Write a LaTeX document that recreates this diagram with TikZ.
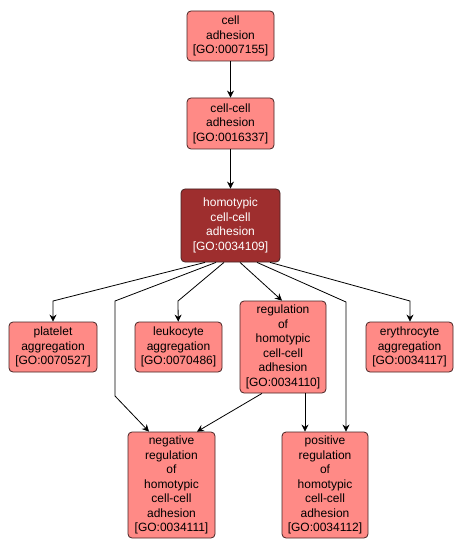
\documentclass[tikz,border=0pt]{standalone}
\usepackage{fontspec}
\setmainfont{Liberation Sans}
\usetikzlibrary{arrows.meta}
\definecolor{gofill}{RGB}{255,138,134}
\definecolor{godark}{RGB}{158,46,46}
\definecolor{goborder}{RGB}{70,35,35}
\tikzset{
  term/.style={draw=goborder, line width=0.8pt, fill=gofill, rounded corners=4pt,
    align=center, font=\fontsize{12}{14.5}\selectfont, inner sep=0pt, text=black},
  focus/.style={term, fill=godark, text=white},
  edge/.style={draw=black, line width=0.8pt, -{Stealth[length=7pt,width=7pt]}},
}
\begin{document}
\begin{tikzpicture}[x=1pt,y=-1pt]
\useasboundingbox (0,0) rectangle (463,553);
\node[term, minimum width=87pt, minimum height=50pt] (ca) at (230.5,36) {cell\\adhesion\\{[GO:0007155]}};
\node[term, minimum width=87pt, minimum height=51pt] (cca) at (230.5,123.5) {cell-cell\\adhesion\\{[GO:0016337]}};
\node[focus, minimum width=99pt, minimum height=73pt] (homo) at (230.5,225.5) {homotypic\\cell-cell\\adhesion\\{[GO:0034109]}};
\node[term, minimum width=88pt, minimum height=50pt] (plat) at (53,347) {platelet\\aggregation\\{[GO:0070527]}};
\node[term, minimum width=87pt, minimum height=50pt] (leuk) at (178.5,347) {leukocyte\\aggregation\\{[GO:0070486]}};
\node[term, minimum width=86pt, minimum height=92pt] (reg) at (283,347) {regulation\\of\\homotypic\\cell-cell\\adhesion\\{[GO:0034110]}};
\node[term, minimum width=87pt, minimum height=50pt] (ery) at (409.5,347) {erythrocyte\\aggregation\\{[GO:0034117]}};
\node[term, minimum width=87pt, minimum height=106pt] (neg) at (171.5,485) {negative\\regulation\\of\\homotypic\\cell-cell\\adhesion\\{[GO:0034111]}};
\node[term, minimum width=86pt, minimum height=106pt] (pos) at (325,485) {positive\\regulation\\of\\homotypic\\cell-cell\\adhesion\\{[GO:0034112]}};

\coordinate (bplat) at (53,301);
\coordinate (bleuk) at (178,301);
\coordinate (bneg1) at (115,301);
\coordinate (bneg2) at (115,396);
\coordinate (bpos) at (346,302);
\coordinate (bery) at (410,301);

\draw[edge] (ca) -- (cca);
\draw[edge] (cca) -- (homo);
\draw[edge] (homo.south -| 205,0) -- (bplat) -- (plat);
\draw[edge] (homo.south -| 224,0) -- (bleuk) -- (leuk);
\draw[edge] (homo.south -| 216,0) -- (bneg1) -- (bneg2) -- (neg.north -| 149,0);
\draw[edge] (homo.south -| 240,0) -- (reg.north -| 282,0);
\draw[edge] (homo.south -| 257,0) -- (bpos) -- (pos.north -| 346,0);
\draw[edge] (homo.south -| 270,0) -- (bery) -- (ery.north -| 410,0);
\draw[edge] (reg.south -| 262,0) -- (neg.north -| 197,0);
\draw[edge] (reg.south -| 305,0) -- (pos.north -| 305,0);
\end{tikzpicture}
\end{document}
